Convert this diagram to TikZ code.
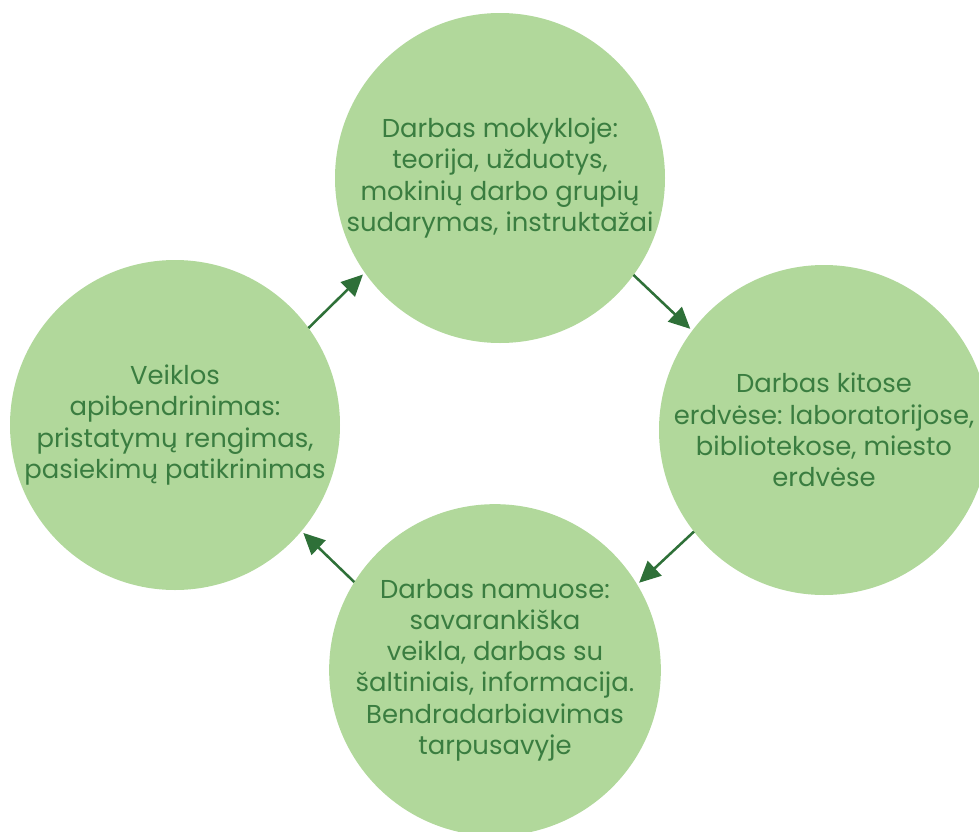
\documentclass[tikz,border=0pt]{standalone}
\usepackage{fontspec}
\setmainfont{Poppins}
\usetikzlibrary{arrows.meta}
\definecolor{fillg}{HTML}{B1D89B}
\definecolor{textg}{HTML}{3A7D40}
\definecolor{arrg}{HTML}{2E7038}
\frenchspacing
\begin{document}
\begin{tikzpicture}[x=0.75pt,y=-0.75pt,
  stage/.style={circle, fill=fillg, minimum size=247.5pt, inner sep=0pt, outer sep=0pt,
    text=textg, align=center, font=\fontsize{19.4}{23.4}\selectfont},
  flow/.style={draw=arrg, line width=1.9pt, -{Triangle[length=16pt,width=15pt]}, shorten >=2pt}]
\useasboundingbox (0,0) rectangle (979,832);
\node[stage] (top) at (500,178) {Darbas mokykloje:\\teorija, užduotys,\\mokinių darbo grupių\\sudarymas, instruktažai};
\node[stage] (right) at (824,430) {Darbas kitose\\erdvėse: laboratorijose,\\bibliotekose, miesto\\erdvėse};
\node[stage] (bottom) at (495,670) {Darbas namuose:\\savarankiška\\veikla, darbas su\\šaltiniais, informacija.\\Bendradarbiavimas\\tarpusavyje};
\node[stage] (left) at (175,425) {Veiklos\\apibendrinimas:\\pristatymų rengimas,\\pasiekimų patikrinimas};
\draw[flow] (top.-36) -- (right.143);
\draw[flow] (right.-142) -- (bottom.31);
\draw[flow] (bottom.148.5) -- (left.-40);
\draw[flow] (left.36) -- (top.-145);
\end{tikzpicture}
\end{document}
